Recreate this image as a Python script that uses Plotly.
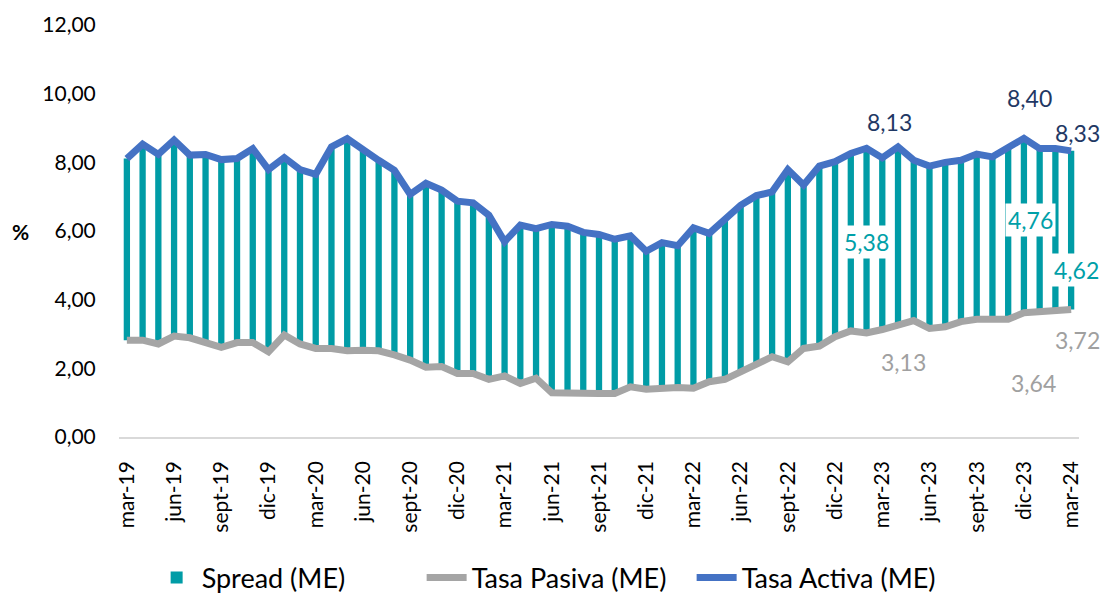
import plotly.graph_objects as go

months = ["mar", "abr", "may", "jun", "jul", "ago", "sept", "oct", "nov", "dic", "ene", "feb"]
categories = []
m_idx, yr = 0, 19
for i in range(61):
    categories.append(f"{months[m_idx]}-{yr}")
    m_idx += 1
    if m_idx == 10:  # after dic -> next year
        yr += 1
    if m_idx == 12:
        m_idx = 0

tasa_activa = [8.11, 8.53, 8.23, 8.65, 8.21, 8.23, 8.08, 8.11, 8.40, 7.79,
               8.14, 7.79, 7.65, 8.45, 8.69, 8.36, 8.06, 7.77, 7.07, 7.39,
               7.19, 6.87, 6.82, 6.46, 5.69, 6.17, 6.07, 6.19, 6.14, 5.96,
               5.90, 5.76, 5.86, 5.41, 5.66, 5.57, 6.09, 5.93, 6.32, 6.75,
               7.03, 7.14, 7.79, 7.34, 7.89, 8.02, 8.26, 8.41, 8.13, 8.45,
               8.06, 7.89, 8.00, 8.06, 8.24, 8.16, 8.43, 8.70, 8.40, 8.40,
               8.334]
tasa_pasiva = [2.82, 2.82, 2.71, 2.94, 2.89, 2.77, 2.61, 2.75, 2.75, 2.48,
               2.97, 2.71, 2.58, 2.58, 2.51, 2.53, 2.51, 2.39, 2.24, 2.03,
               2.05, 1.85, 1.85, 1.68, 1.78, 1.56, 1.71, 1.29, 1.27, 1.29,
               1.27, 1.27, 1.46, 1.39, 1.42, 1.44, 1.42, 1.61, 1.68, 1.90,
               2.13, 2.34, 2.19, 2.58, 2.65, 2.92, 3.09, 3.03, 3.13, 3.26,
               3.39, 3.16, 3.21, 3.36, 3.43, 3.43, 3.43, 3.62, 3.64, 3.65,
               3.716]
spread = [a - p for a, p in zip(tasa_activa, tasa_pasiva)]

tick_idx = list(range(0, 61, 3))
tick_text = [categories[i] for i in tick_idx]

# labelled points: (index, xshift, yshift)
activa_labels = [(48, 7, 36), (58, -10, 51), (60, 6, 18)]
pasiva_labels = [(48, 21, -32), (58, -6, -71), (60, 6, -31)]
spread_labels = [(47, 0, -1), (58, -9, 10), (60, 5, -40)]

TEAL = "#009CA6"
BLUE = "#4472C4"
GRAY = "#A5A5A5"
FONT = "Lato"

x = list(range(61))

fig = go.Figure()
fig.add_trace(go.Bar(x=x, y=spread, base=tasa_pasiva, name="Spread (ME)",
                     marker=dict(color=TEAL, line=dict(width=0)), width=0.4))
fig.add_trace(go.Scatter(x=x, y=tasa_pasiva, name="Tasa Pasiva (ME)", mode="lines",
                         line=dict(color=GRAY, width=7)))
fig.add_trace(go.Scatter(x=x, y=tasa_activa, name="Tasa Activa (ME)", mode="lines",
                         line=dict(color=BLUE, width=7)))

def fmt(v):
    return f"{v:.2f}".replace(".", ",")

ann = []
for i, dx, dy in activa_labels:
    ann.append(dict(x=i, y=tasa_activa[i], text=fmt(tasa_activa[i]), showarrow=False,
                    xshift=dx, yshift=dy, font=dict(family=FONT, size=23, color="#1F3864")))
for i, dx, dy in pasiva_labels:
    ann.append(dict(x=i, y=tasa_pasiva[i], text=fmt(tasa_pasiva[i]), showarrow=False,
                    xshift=dx, yshift=dy, font=dict(family=FONT, size=23, color="#A0A0A0")))
for i, dx, dy in spread_labels:
    ann.append(dict(x=i, y=tasa_pasiva[i] + spread[i] / 2, text=fmt(spread[i]), showarrow=False,
                    xshift=dx, yshift=dy, bgcolor="white", borderpad=2,
                    font=dict(family=FONT, size=23, color="#00A0A8")))
ann.append(dict(xref="paper", x=0, xanchor="center", xshift=-99, y=6, text="<b>%</b>",
                showarrow=False, font=dict(family=FONT, size=21, color="#000000")))

fig.update_layout(
    width=1102, height=593, autosize=False,
    margin=dict(l=119, r=23, t=25, b=156, autoexpand=False),
    paper_bgcolor="white", plot_bgcolor="white",
    separators=",.",
    showlegend=True,
    legend=dict(orientation="h", x=0.034, xanchor="left",
                y=-0.342, yanchor="middle",
                font=dict(family=FONT, size=27, color="#000000"),
                entrywidth=215, entrywidthmode="pixels",
                itemwidth=40, traceorder="normal"),
    annotations=ann,
    font=dict(family=FONT, color="#000000"),
)
fig.update_xaxes(range=[-0.5, 60.5], tickvals=tick_idx, ticktext=tick_text, tickangle=-90,
                 showgrid=False, showline=True, linecolor="#D9D9D9", linewidth=1.5,
                 ticks="outside", ticklen=14, tickcolor="rgba(0,0,0,0)",
                 tickfont=dict(family=FONT, size=21, color="#000000"), zeroline=False)
fig.update_yaxes(range=[0, 12], tickvals=[0, 2, 4, 6, 8, 10, 12], tickformat=".2f",
                 showgrid=False, showline=False, zeroline=False,
                 ticks="outside", ticklen=18, tickcolor="rgba(0,0,0,0)",
                 tickfont=dict(family=FONT, size=21, color="#000000"))

fig.write_html("out.html", config={"displayModeBar": False},
               post_script="document.body.style.margin='0px';")
